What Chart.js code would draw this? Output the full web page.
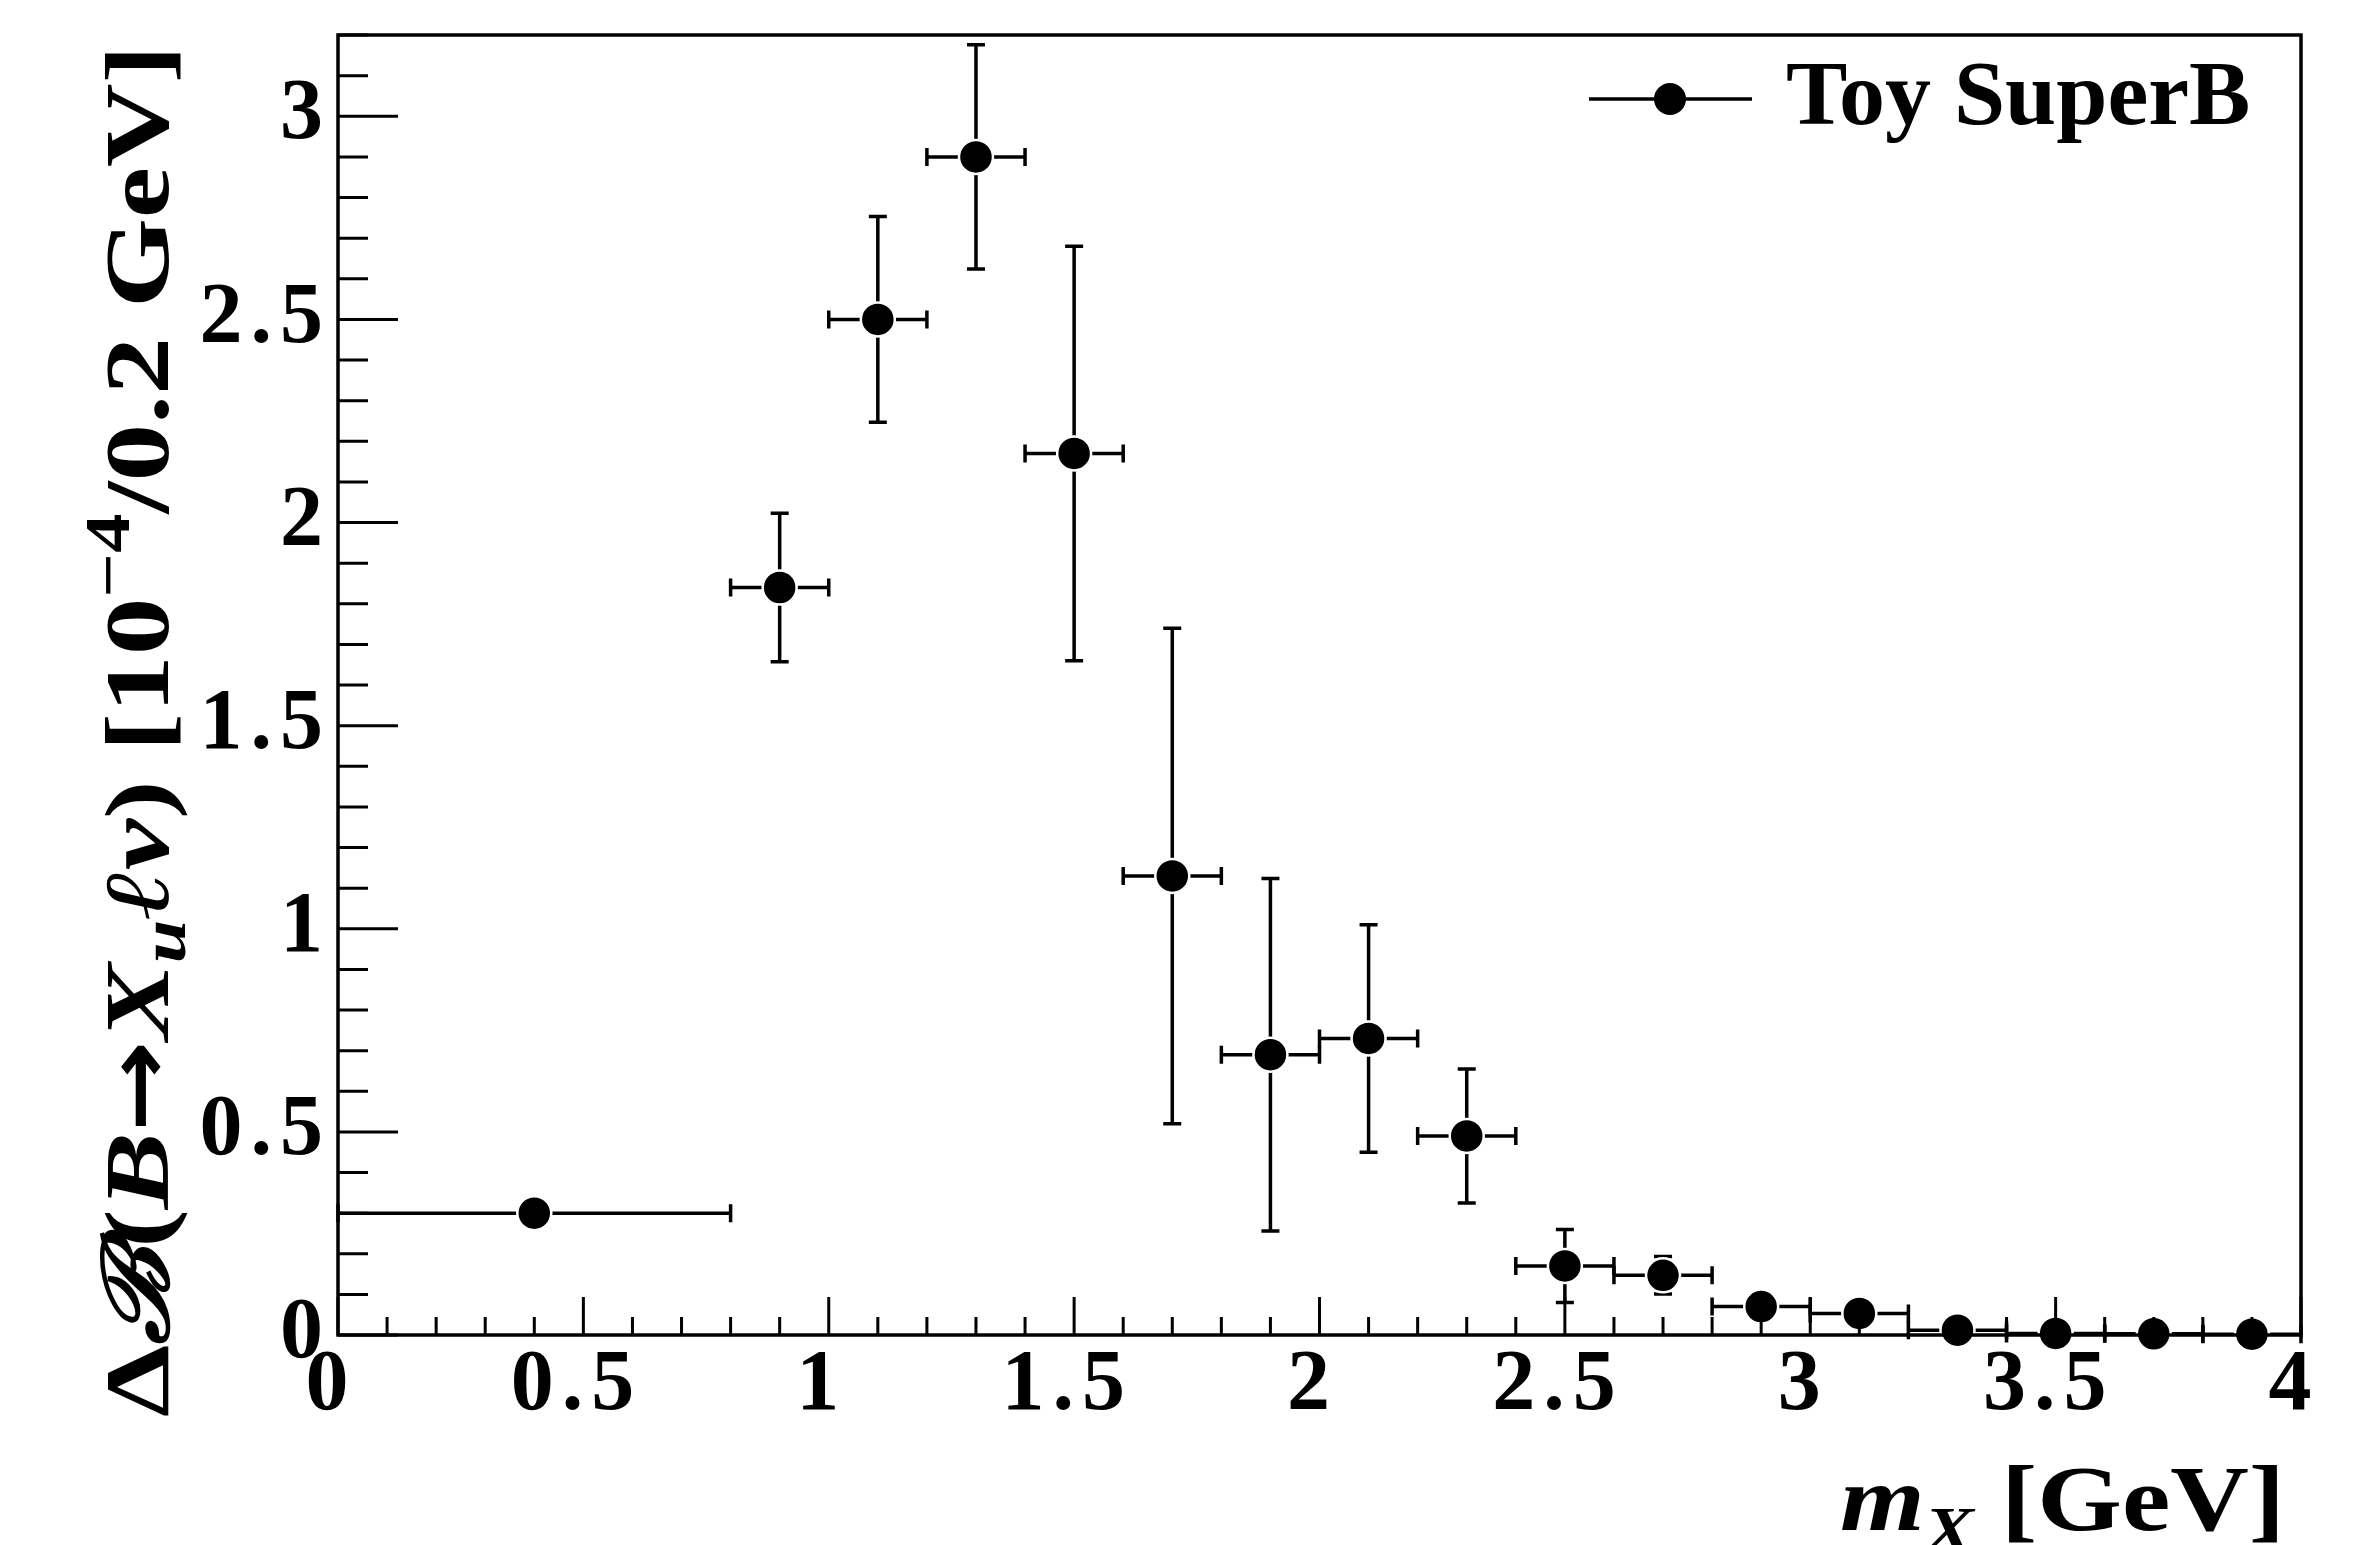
<!DOCTYPE html>
<html>
<head>
<meta charset="utf-8">
<script src="https://cdn.jsdelivr.net/npm/chart.js@4.4.0/dist/chart.umd.min.js"></script>
<style>
  html, body { margin: 0; padding: 0; background: #fff; }
  #wrap { width: 2364px; height: 1545px; position: relative; }
</style>
</head>
<body>
<div id="wrap"><canvas id="myChart"></canvas></div>
<script>
// m_X bins: centre and half width [GeV]
const massCenters = [0.4, 0.9, 1.1, 1.3, 1.5, 1.7, 1.9, 2.1, 2.3, 2.5, 2.7, 2.9, 3.1, 3.3, 3.5, 3.7, 3.9]
const massHalfWidths = [0.4, 0.1, 0.1, 0.1, 0.1, 0.1, 0.1, 0.1, 0.1, 0.1, 0.1, 0.1, 0.1, 0.1, 0.1, 0.1, 0.1]
// partial branching fraction per bin [10^-4 / 0.2 GeV] and its error
const rateValues = [0.30, 1.84, 2.50, 2.90, 2.17, 1.13, 0.69, 0.73, 0.49, 0.17, 0.147, 0.07, 0.053, 0.012, 0.004, 0.003, 0.002]
const rateErrors = [0.03, 0.183, 0.253, 0.276, 0.51, 0.61, 0.434, 0.28, 0.165, 0.09, 0.046, 0.02, 0.015, 0.008, 0.004, 0.003, 0.002]

const xMajorTicks = [0, 0.5, 1, 1.5, 2, 2.5, 3, 3.5, 4]
const yMajorTicks = [0, 0.5, 1, 1.5, 2, 2.5, 3]
const minorStep = 0.1
const seriesName = 'Toy SuperB'

const serif = "'Liberation Serif', 'DejaVu Serif', serif"
const symbolFont = "'DejaVu Sans', sans-serif"
const ink = '#000'

const points = massCenters.map((x, i) => ({
    x: x,
    y: rateValues[i],
    ex: massHalfWidths[i],
    ey: rateErrors[i]
}))

// wider digit spacing for the tick labels only
const tickSpacing = {
    id: 'tickSpacing',
    beforeDraw(chart) { chart.ctx.letterSpacing = '8px' },
    beforeDatasetsDraw(chart) { chart.ctx.letterSpacing = '0px' }
}

// error crosses, drawn under the markers
const errorBars = {
    id: 'errorBars',
    beforeDatasetsDraw(chart) {
        const ctx = chart.ctx
        const xs = chart.scales.x
        const ys = chart.scales.y
        const cap = 9
        ctx.save()
        ctx.strokeStyle = ink
        ctx.lineWidth = 3.5
        for (const p of chart.data.datasets[0].data) {
            const px = xs.getPixelForValue(p.x)
            const py = ys.getPixelForValue(p.y)
            const xl = xs.getPixelForValue(p.x - p.ex)
            const xr = xs.getPixelForValue(p.x + p.ex)
            const yb = ys.getPixelForValue(p.y - p.ey)
            const yt = ys.getPixelForValue(p.y + p.ey)
            ctx.beginPath()
            ctx.moveTo(xl, py); ctx.lineTo(xr, py)
            ctx.moveTo(xl, py - cap); ctx.lineTo(xl, py + cap)
            ctx.moveTo(xr, py - cap); ctx.lineTo(xr, py + cap)
            ctx.moveTo(px, yb); ctx.lineTo(px, yt)
            ctx.moveTo(px - cap, yb); ctx.lineTo(px + cap, yb)
            ctx.moveTo(px - cap, yt); ctx.lineTo(px + cap, yt)
            ctx.stroke()
        }
        ctx.restore()
    }
}

const isMajor = v => Math.abs(v * 2 - Math.round(v * 2)) < 1e-6

// box around the plot plus inward tick marks
const frameTicks = {
    id: 'frameTicks',
    afterDatasetsDraw(chart) {
        const ctx = chart.ctx
        const a = chart.chartArea
        const xs = chart.scales.x
        const ys = chart.scales.y
        ctx.save()
        ctx.strokeStyle = ink
        ctx.lineWidth = 3.5
        ctx.strokeRect(a.left, a.top, a.right - a.left, a.bottom - a.top)
        ctx.lineWidth = 3
        ctx.beginPath()
        const nx = Math.round((xs.max - xs.min) / minorStep)
        for (let i = 0; i <= nx; i++) {
            const v = xs.min + i * minorStep
            const px = xs.getPixelForValue(v)
            ctx.moveTo(px, a.bottom)
            ctx.lineTo(px, a.bottom - (isMajor(v) ? 38 : 18))
        }
        const ny = Math.floor((ys.max - ys.min) / minorStep + 1e-6)
        for (let i = 0; i <= ny; i++) {
            const v = ys.min + i * minorStep
            const py = ys.getPixelForValue(v)
            ctx.moveTo(a.left, py)
            ctx.lineTo(a.left + (isMajor(v) ? 60 : 30), py)
        }
        ctx.stroke()
        ctx.restore()
    }
}

// text runs with mixed style / sub- and superscripts, stretched to a given length
const drawRich = (ctx, parts, size, length) => {
    let total = 0
    const runs = parts.map(p => {
        const font = `${p.f || 'bold'} ${size * (p.k || 1)}px ${p.fam || serif}`
        ctx.font = font
        const w = ctx.measureText(p.t).width
        total += w
        return { t: p.t, font: font, w: w, dy: (p.dy || 0) * size }
    })
    ctx.scale(length / total, 1)
    let cx = 0
    for (const r of runs) {
        ctx.font = r.font
        ctx.fillText(r.t, cx, r.dy)
        cx += r.w
    }
}

const yTitle = [
    { t: 'Δ' },
    { t: 'ℬ', f: 'italic bold' },
    { t: '(' },
    { t: 'B', f: 'italic bold' },
    { t: '→', fam: symbolFont, k: 0.95 },
    { t: 'X', f: 'italic bold' },
    { t: 'u', f: 'italic bold', k: 0.68, dy: 0.18 },
    { t: 'ℓ', f: 'italic bold' },
    { t: 'ν', f: 'italic bold' },
    { t: ') [10' },
    { t: '−4', k: 0.68, dy: -0.42 },
    { t: '/0.2 GeV]' }
]
const xTitle = [
    { t: 'm', f: 'italic bold' },
    { t: 'X', f: 'italic bold', k: 0.68, dy: 0.22 },
    { t: ' [GeV]' }
]

const axisTitles = {
    id: 'axisTitles',
    afterDraw(chart) {
        const ctx = chart.ctx
        ctx.save()
        ctx.fillStyle = ink
        ctx.textBaseline = 'alphabetic'
        ctx.translate(168, 731)
        ctx.rotate(-Math.PI / 2)
        ctx.translate(-686, 0)
        drawRich(ctx, yTitle, 92, 1372)
        ctx.restore()

        ctx.save()
        ctx.fillStyle = ink
        ctx.textBaseline = 'alphabetic'
        ctx.translate(1840, 1530)
        drawRich(ctx, xTitle, 94, 445)
        ctx.restore()
    }
}

const legendBox = {
    id: 'legendBox',
    afterDraw(chart) {
        const ctx = chart.ctx
        const ds = chart.data.datasets[0]
        const yMid = 99
        ctx.save()
        ctx.strokeStyle = ink
        ctx.lineWidth = 3.5
        ctx.beginPath()
        ctx.moveTo(1589, yMid)
        ctx.lineTo(1752, yMid)
        ctx.stroke()
        ctx.fillStyle = ink
        ctx.beginPath()
        ctx.arc(1670, yMid, 16, 0, Math.PI * 2)
        ctx.fill()
        ctx.font = `bold 92px ${serif}`
        ctx.textBaseline = 'alphabetic'
        ctx.fillText(ds.label, 1786, 124)
        ctx.restore()
    }
}

const tickFont = { family: serif, size: 86, weight: 'bold' }

new Chart(document.getElementById('myChart'), {
    type: 'scatter',
    data: {
        datasets: [{
            label: seriesName,
            data: points,
            pointRadius: 17,
            pointHoverRadius: 17,
            pointBackgroundColor: ink,
            pointBorderColor: '#fff',
            pointBorderWidth: 2.5,
            clip: false,
            showLine: false
        }]
    },
    options: {
        responsive: true,
        maintainAspectRatio: false,
        animation: false,
        events: [],
        layout: { padding: { left: 0, top: 35, right: 63, bottom: 0 } },
        plugins: { legend: { display: false }, tooltip: { enabled: false } },
        scales: {
            x: {
                type: 'linear',
                min: 0,
                max: 4,
                afterBuildTicks: s => { s.ticks = xMajorTicks.map(v => ({ value: v })) },
                afterFit: s => { s.height = 210; s.paddingLeft = 0; s.paddingRight = 0 },
                grid: { display: false, drawTicks: false },
                border: { display: false },
                ticks: { font: tickFont, color: ink, padding: 0, labelOffset: -7, maxRotation: 0, autoSkip: false, callback: v => String(v) }
            },
            y: {
                type: 'linear',
                min: 0,
                max: 3.2,
                afterBuildTicks: s => { s.ticks = yMajorTicks.map(v => ({ value: v })) },
                afterFit: s => { s.width = 338; s.paddingTop = 0; s.paddingBottom = 0 },
                grid: { display: false, drawTicks: false },
                border: { display: false },
                ticks: { font: tickFont, color: ink, padding: 7, autoSkip: false, callback: v => String(v) }
            }
        }
    },
    plugins: [tickSpacing, errorBars, frameTicks, legendBox, axisTitles]
})
</script>
</body>
</html>
